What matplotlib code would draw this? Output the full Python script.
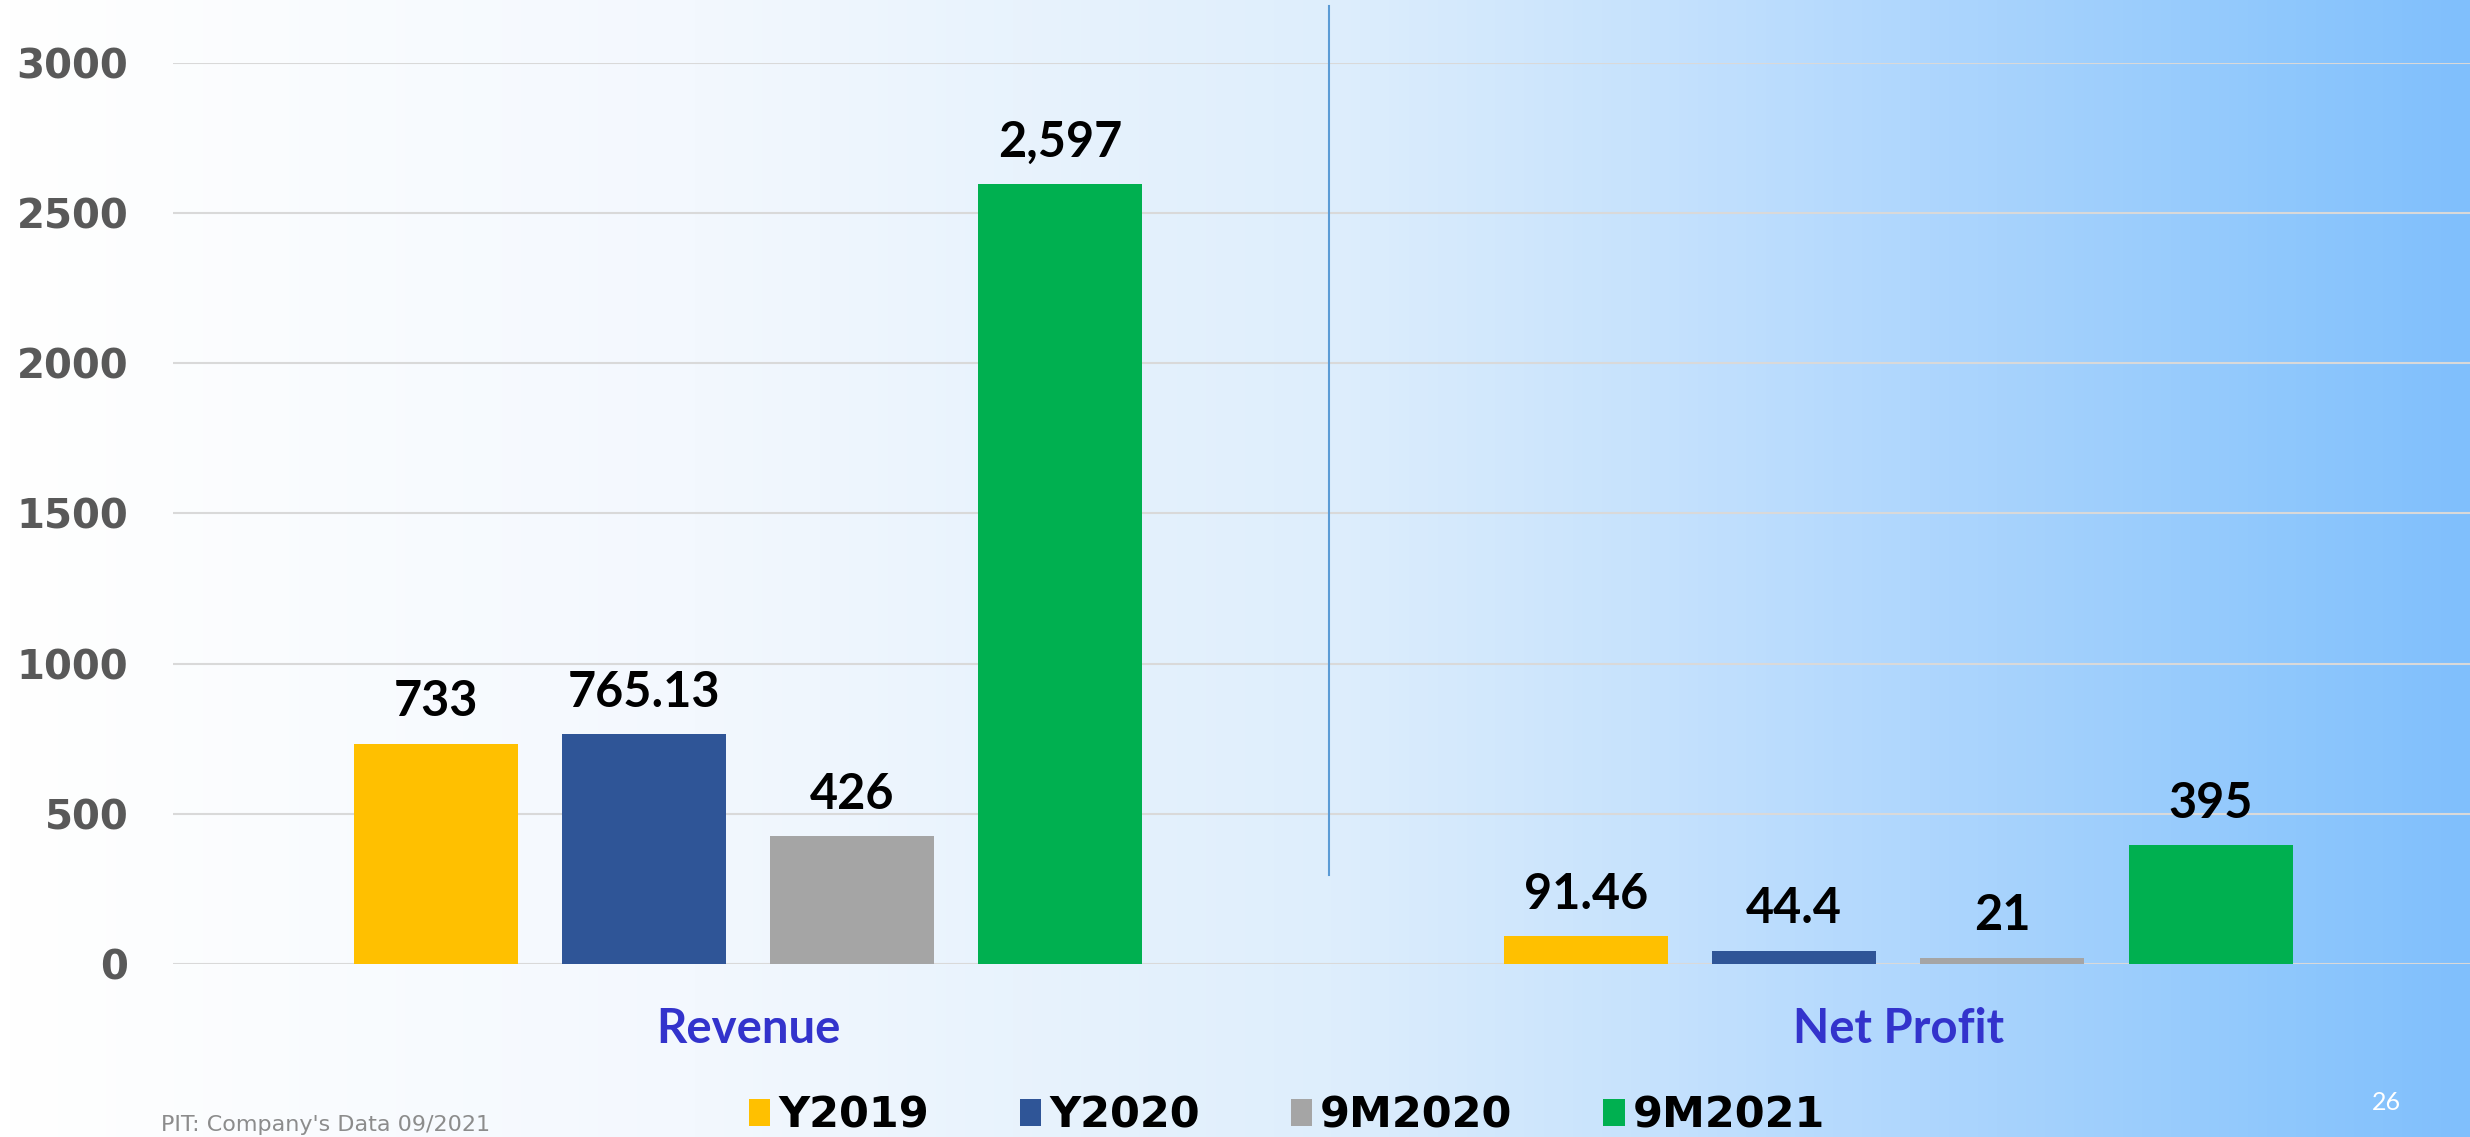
import numpy as np
import matplotlib
matplotlib.use("Agg")
import matplotlib.pyplot as plt
from matplotlib.colors import LinearSegmentedColormap
from matplotlib.patches import Patch

# data
categories = ["Revenue", "Net Profit"]
series = ["Y2019", "Y2020", "9M2020", "9M2021"]
revenue = [733, 765.13, 426, 2597]
net_profit = [91.46, 44.4, 21, 395]
revenue_labels = ["733", "765.13", "426", "2,597"]
profit_labels = ["91.46", "44.4", "21", "395"]
yticks = [0, 500, 1000, 1500, 2000, 2500, 3000]

colors = ["#FFC000", "#2F5597", "#A5A5A5", "#00B050"]

fig = plt.figure(figsize=(24.7, 11.37), dpi=100)

# background gradient (white -> light blue)
bg = fig.add_axes([0, 0, 1, 1], zorder=-10)
cmap = LinearSegmentedColormap.from_list(
    "bg",
    [(0.0, "#ffffff"), (0.28, "#f3f8fe"), (0.54, "#deeefc"),
     (0.67, "#c6e2fd"), (0.81, "#a8d3fd"), (0.93, "#8ec7fc"), (1.0, "#80bffc")])
bg.imshow(np.linspace(0, 1, 512)[None, :], aspect="auto", cmap=cmap,
          extent=[0, 1, 0, 1])
bg.axis("off")

ax = fig.add_axes([0.070, 0.1522, 0.930, 0.7924])
ax.patch.set_alpha(0)

x = np.arange(len(categories))
width = 0.1426
step = 0.181
offsets = (np.arange(len(series)) - 1.5) * step

for i, s in enumerate(series):
    vals = [revenue[i], net_profit[i]]
    labs = [revenue_labels[i], profit_labels[i]]
    bars = ax.bar(x + offsets[i], vals, width, color=colors[i], label=s, zorder=3)
    for b, lab in zip(bars, labs):
        ax.annotate(lab, (b.get_x() + b.get_width() / 2, b.get_height()),
                    xytext=(0, 14), textcoords="offset points",
                    ha="center", va="bottom", fontsize=35,
                    family="Lato", fontweight="bold", color="black")

ax.set_xlim(-0.5, 1.497)
ax.set_ylim(0, 3000)
ax.set_yticks(yticks)
ax.set_yticklabels([str(t) for t in yticks], fontsize=29,
                   fontweight="bold", color="#595959")
ax.set_xticks(x)
ax.set_xticklabels(categories, fontsize=34, family="Lato",
                   fontweight="bold", color="#3333CC")
ax.tick_params(axis="x", length=0, pad=31)
ax.tick_params(axis="y", length=0, pad=32)
ax.grid(axis="y", color="#D9D9D9", linewidth=1.5, zorder=0)
for sp in ax.spines.values():
    sp.set_visible(False)

# divider between the two groups
ax.plot([0.505, 0.505], [296, 3190], color="#5B9BD5", linewidth=1.5,
        clip_on=False, zorder=2)

handles = [Patch(facecolor=c, edgecolor="none") for c in colors]
fig.legend(handles, series, loc="center", bbox_to_anchor=(1287 / 2470, 0.019),
           ncol=4, frameon=False, prop={"weight": "bold", "size": 31},
           handlelength=0.5, handleheight=0.58, handletextpad=0.19,
           columnspacing=2.1)

fig.text(0.065, 0.002, "PIT: Company's Data 09/2021", fontsize=16,
         color="#8C8C8C", ha="left", va="bottom")
fig.text(0.966, 0.03, "26", fontsize=18, color="white", family="Lato",
         ha="center", va="center")

fig.savefig("out.png", dpi=100)
